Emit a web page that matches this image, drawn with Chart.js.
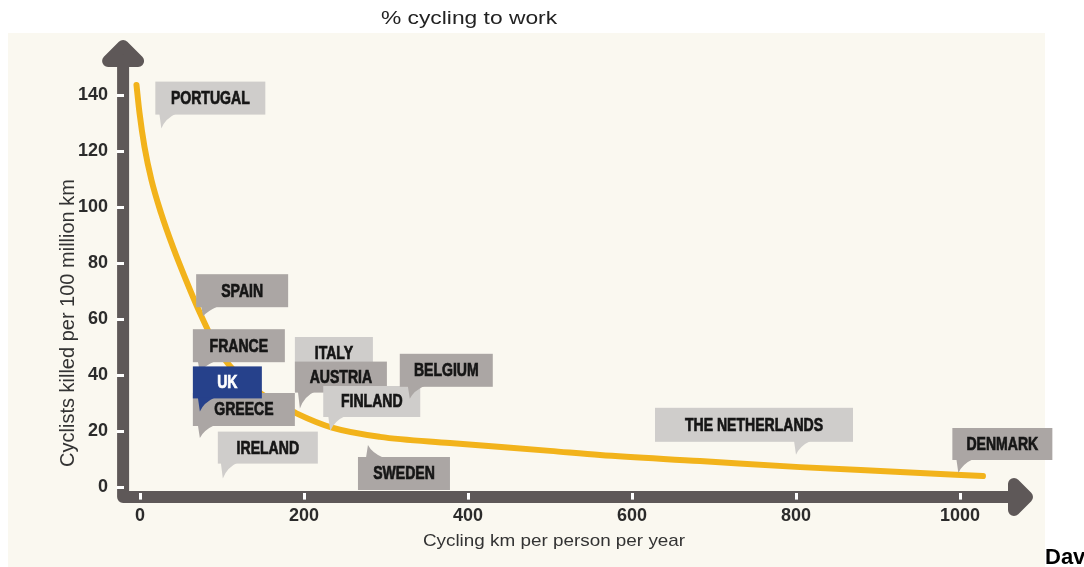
<!DOCTYPE html>
<html>
<head>
<meta charset="utf-8">
<script src="https://cdn.jsdelivr.net/npm/chart.js@4.4.1/dist/chart.umd.min.js"></script>
<style>
html,body{margin:0;padding:0;background:#ffffff;}
#wrap{width:1084px;height:567px;position:relative;}
</style>
</head>
<body>
<div id="wrap"><canvas id="c" width="1084" height="567"></canvas></div>
<script>
// ---- data ----
const curveKm     = [-4.3, -0.6, 5.5, 14, 25.6, 40.2, 56.1, 73.2, 89, 108.5, 146.3, 190.2, 235.4, 292.7, 378, 500, 561, 683, 805, 927, 1028];
const curveKilled = [143.6, 133.6, 121.4, 109.6, 97.9, 85.7, 73.9, 62.1, 52.5, 43.6, 33.6, 26.4, 21.1, 17.9, 15.7, 12.9, 11.4, 9.3, 7.1, 5.4, 3.9];

const countries     = ['PORTUGAL','SPAIN','FRANCE','GREECE','UK','IRELAND','ITALY','AUSTRIA','FINLAND','BELGIUM','SWEDEN','THE NETHERLANDS','DENMARK'];
const countryKm     = [26, 77, 73, 73, 73, 101, 195, 195, 232, 329, 278, 800, 998];
const countryKilled = [128, 61, 41, 17.5, 27, 3, 37.5, 28, 20, 31.5, 15, 11.5, 5];

const xTickValues = [0, 200, 400, 600, 800, 1000];
const xTickLabels = ['0', '200', '400', '600', '800', '1000'];
const yTickValues = [0, 20, 40, 60, 80, 100, 120, 140];
const yTickLabels = ['0', '20', '40', '60', '80', '100', '120', '140'];

const titleText  = '% cycling to work';
const xAxisTitle = 'Cycling km per person per year';
const yAxisTitle = 'Cyclists killed per 100 million km';
const creditText = 'Dav';

// ---- layout / style of the speech-bubble labels (pixel offsets from the pointed spot) ----
const labelLayout = [
  {dx:-6,  dy:-47, w:110, h:33, shade:'light', tail:'bottom'},
  {dx:-7,  dy:-42, w:92,  h:33, shade:'mid',   tail:'bottom'},
  {dx:-7,  dy:-43, w:92,  h:33, shade:'mid',   tail:'bottom'},
  {dx:-7,  dy:-45, w:102, h:33, shade:'mid',   tail:'bottom'},
  {dx:-7,  dy:-45, w:69,  h:32, shade:'uk',    tail:'bottom'},
  {dx:-5,  dy:-47, w:100, h:32, shade:'light', tail:'bottom'},
  {dx:-5,  dy:-45, w:78,  h:33, shade:'light', tail:'bottom'},
  {dx:-5,  dy:-47, w:92,  h:31, shade:'mid',   tail:'bottom'},
  {dx:-7,  dy:-45, w:97,  h:31, shade:'light', tail:'bottom'},
  {dx:-10, dy:-45, w:93,  h:33, shade:'mid',   tail:'bottom'},
  {dx:-10, dy:12,  w:92,  h:33, shade:'mid',   tail:'top'},
  {dx:-141,dy:-47, w:198, h:34, shade:'light', tail:'bottom'},
  {dx:-6,  dy:-45, w:100, h:32, shade:'mid',   tail:'bottom'}
];
const shadeFill = {light:'#cfcdcb', mid:'#aba6a4', uk:'#26418b'};
const shadeText = {light:'#161616', mid:'#161616', uk:'#ffffff'};

const SANS = '"Liberation Sans", Arial, sans-serif';

const bgPlugin = {
  id: 'bg',
  beforeDraw(chart) {
    const g = chart.ctx, a = chart.chartArea;
    g.save();
    g.fillStyle = '#ffffff';
    g.fillRect(0, 0, chart.width, chart.height);
    g.fillStyle = '#faf8f0';
    g.fillRect(8, 33, 1037, chart.height - 33);
    // axis bars with arrow heads
    const ax = a.left - 0.5;
    const ay = a.bottom + 4.5;
    const topTip = a.top + 7;
    const rightTip = a.right - 15;
    g.strokeStyle = '#5e5858';
    g.fillStyle = '#5e5858';
    g.lineWidth = 12;
    g.lineJoin = 'round';
    g.lineCap = 'butt';
    g.beginPath();
    g.moveTo(ax, topTip + 4);
    g.lineTo(ax, ay);
    g.lineTo(rightTip - 4, ay);
    g.stroke();
    g.lineCap = 'round';
    g.beginPath();
    g.moveTo(ax - 15, topTip + 15);
    g.lineTo(ax, topTip);
    g.lineTo(ax + 15, topTip + 15);
    g.closePath();
    g.fill();
    g.stroke();
    g.beginPath();
    g.moveTo(rightTip - 13, ay - 13);
    g.lineTo(rightTip, ay);
    g.lineTo(rightTip - 13, ay + 13);
    g.closePath();
    g.fill();
    g.stroke();
    g.restore();
  }
};

const labelPlugin = {
  id: 'labels',
  afterDatasetsDraw(chart) {
    const g = chart.ctx, xs = chart.scales.x, ys = chart.scales.y;
    g.save();
    countries.forEach((name, i) => {
      const L = labelLayout[i];
      const tx = xs.getPixelForValue(countryKm[i]);
      const ty = ys.getPixelForValue(countryKilled[i]);
      const x0 = tx + L.dx, y0 = ty + L.dy;
      g.fillStyle = shadeFill[L.shade];
      g.fillRect(x0, y0, L.w, L.h);
      // tail
      g.beginPath();
      if (L.tail === 'bottom') {
        const by = y0 + L.h;
        g.moveTo(tx - 2, by - 1);
        g.lineTo(tx + 15, by - 1);
        g.quadraticCurveTo(tx + 4, by + 4, tx, ty);
        g.closePath();
      } else {
        const by = y0;
        g.moveTo(tx - 2, by + 1);
        g.lineTo(tx + 16, by + 1);
        g.quadraticCurveTo(tx + 4, by - 4, tx, ty);
        g.closePath();
      }
      g.fill();
      // text (condensed bold)
      g.fillStyle = shadeText[L.shade];
      g.strokeStyle = shadeText[L.shade];
      g.lineWidth = 0.7;
      g.font = 'bold 18px ' + SANS;
      g.textAlign = 'center';
      g.textBaseline = 'middle';
      g.save();
      g.translate(x0 + L.w / 2, y0 + L.h / 2 + 1);
      g.scale(0.78, 1);
      g.fillText(name, 0, 0);
      g.strokeText(name, 0, 0);
      g.restore();
    });
    g.restore();
  },
  afterDraw(chart) {
    const g = chart.ctx;
    g.save();
    // top title
    g.fillStyle = '#222222';
    g.font = '19px ' + SANS;
    g.textAlign = 'center';
    g.textBaseline = 'alphabetic';
    g.save();
    g.translate(469, 24);
    g.scale(1.2, 1);
    g.fillText(titleText, 0, 0);
    g.restore();
    // x axis title
    g.fillStyle = '#333333';
    g.font = '17px ' + SANS;
    g.save();
    g.translate(554, 546);
    g.scale(1.11, 1);
    g.fillText(xAxisTitle, 0, 0);
    g.restore();
    // y axis title
    g.font = '20px ' + SANS;
    g.save();
    g.translate(68, 323);
    g.rotate(-Math.PI / 2);
    g.textBaseline = 'middle';
    g.fillText(yAxisTitle, 0, 0);
    g.restore();
    // credit
    g.fillStyle = '#000000';
    g.font = 'bold 22px ' + SANS;
    g.textAlign = 'left';
    g.textBaseline = 'alphabetic';
    g.fillText(creditText, 1045, 564);
    g.restore();
  }
};

const tickFont = {family: SANS, size: 18, weight: 'bold'};

new Chart(document.getElementById('c').getContext('2d'), {
  type: 'line',
  data: {
    datasets: [{
      data: curveKm.map((x, i) => ({x: x, y: curveKilled[i]})),
      borderColor: '#f2b31b',
      borderWidth: 6,
      pointRadius: 0,
      fill: false,
      cubicInterpolationMode: 'monotone',
      borderCapStyle: 'round',
      borderJoinStyle: 'round'
    }]
  },
  options: {
    responsive: false,
    animation: false,
    devicePixelRatio: 1,
    layout: {padding: {left: 58, top: 39, right: 42, bottom: 34.4}},
    plugins: {legend: {display: false}, tooltip: {enabled: false}, title: {display: false}},
    scales: {
      x: {
        type: 'linear', min: -20, max: 1100,
        afterBuildTicks: s => { s.ticks = xTickValues.map(v => ({value: v})); },
        afterFit: s => { s.height = 40; },
        grid: {display: true, drawOnChartArea: false, drawTicks: true, tickLength: 7, color: '#ffffff', lineWidth: 3},
        border: {display: false},
        ticks: {padding: 6, color: '#2b2b2b', font: tickFont, autoSkip: false, maxRotation: 0,
                callback: (v, i) => xTickLabels[i]}
      },
      y: {
        type: 'linear', min: -2, max: 160,
        afterBuildTicks: s => { s.ticks = yTickValues.map(v => ({value: v})); },
        afterFit: s => { s.width = 65.6; },
        grid: {display: true, drawOnChartArea: false, drawTicks: true, tickLength: 7, color: '#ffffff', lineWidth: 3},
        border: {display: false},
        ticks: {padding: 8.6, color: '#2b2b2b', font: tickFont, autoSkip: false,
                callback: (v, i) => yTickLabels[i]}
      }
    }
  },
  plugins: [bgPlugin, labelPlugin]
});
</script>
</body>
</html>
